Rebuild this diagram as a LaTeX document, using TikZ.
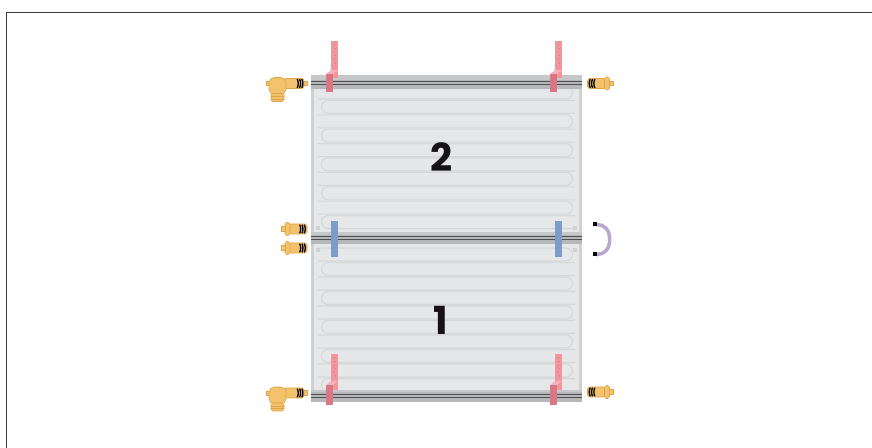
\documentclass[tikz,border=0pt]{standalone}
\usepackage{fontspec}
\newfontfamily\numfont{Poppins}
\definecolor{framecol}{HTML}{3A3A3C}
\definecolor{panelfill}{HTML}{E6E7E9}
\definecolor{paneledge}{HTML}{CFD0D2}
\definecolor{channel}{HTML}{D6D7D9}
\definecolor{railfill}{HTML}{B6B7B9}
\definecolor{raillight}{HTML}{C6C7C9}
\definecolor{raildark}{HTML}{4E4E50}
\definecolor{pinkstrip}{HTML}{F3959D}
\definecolor{pinkblock}{HTML}{DB7784}
\definecolor{pinkfold}{HTML}{F6B0B6}
\definecolor{pinkdot}{HTML}{9C8C8E}
\definecolor{bluebar}{HTML}{7B9DC8}
\definecolor{brass}{HTML}{F2C26C}
\definecolor{brassedge}{HTML}{E0A24A}
\definecolor{loopcol}{HTML}{B9A7CD}
\definecolor{numcol}{HTML}{161216}
\tikzset{
  brasspart/.style={fill=brass, draw=brassedge, line width=0.35pt},
  ring/.style={draw=black, line width=0.75pt},
  chan/.style={draw=channel, line width=0.6pt},
  darkline/.style={draw=raildark, line width=0.6pt},
  numlabel/.style={font=\numfont\bfseries\fontsize{22}{22}\selectfont, text=numcol, inner sep=0pt},
  % straight push-in fitting, rings at the origin, body running to +x
  straightfit/.pic={
    \path[brasspart, rounded corners=1] (0,-5) rectangle (18,5);
    \path[brasspart, rounded corners=1] (17,-6.5) rectangle (22,6.5);
    \path[brasspart] (22,-2.3) rectangle (25.5,2.3);
    \foreach \r in {2,4.3,6.6}
      \draw[ring] (\r+0.8,-4.3) .. controls (\r-0.6,-2) and (\r-0.6,2) .. (\r+0.8,4.3);
  },
  % elbow fitting, tube end at the origin, elbow to -x
  elbowfit/.pic={
    \path[brasspart] (-4,-2.2) rectangle (0,2.2);
    \path[brasspart, rounded corners=1] (-23,-5) rectangle (-3,5);
    \foreach \r in {-9,-6.7,-4.4}
      \draw[ring] (\r-0.8,-4.3) .. controls (\r+0.6,-2) and (\r+0.6,2) .. (\r-0.8,4.3);
    \path[brasspart] (-41,-2) rectangle (-37,2);
    \path[brasspart, rounded corners=3] (-38,-6) rectangle (-21,11);
    \path[brasspart, rounded corners=1] (-36,10) rectangle (-23,18);
    \draw[brassedge, line width=0.3pt] (-36,13) -- (-23,13) (-36,15.5) -- (-23,15.5);
  }
}
\begin{document}
\begin{tikzpicture}[x=0.02cm, y=-0.02cm]
\useasboundingbox (0,0) rectangle (872,448);
\clip (0,0) rectangle (872,448);

% outer frame
\draw[framecol, line width=0.85pt] (6.5,12.5) rectangle (900,480);

% ---- panel 2 (upper) ----
\path[fill=paneledge] (311,86) rectangle (582,234);
\path[fill=panelfill] (314,86) rectangle (579,232);
\begin{scope}
  \clip (314,89) rectangle (579,232);
  \foreach \i in {0,...,9} {
    \pgfmathsetmacro\yt{86+14.4*\i}
    \pgfmathsetmacro\yb{\yt+13}
    \ifodd\i
      \draw[chan] (575,\yt) -- (328,\yt) arc[start angle=270, end angle=90, radius=6.5] -- (575,\yb);
    \else
      \draw[chan] (318,\yt) -- (566,\yt) arc[start angle=270, end angle=450, radius=6.5] -- (318,\yb);
    \fi
  }
\end{scope}

% ---- panel 1 (lower) ----
\path[fill=paneledge] (311,242) rectangle (582,391);
\path[fill=panelfill] (314,244) rectangle (579,391);
\begin{scope}
  \clip (314,244) rectangle (579,390);
  \foreach \i in {0,...,9} {
    \pgfmathsetmacro\yt{248+14.5*\i}
    \pgfmathsetmacro\yb{\yt+13}
    \ifodd\i
      \draw[chan] (575,\yt) -- (328,\yt) arc[start angle=270, end angle=90, radius=6.5] -- (575,\yb);
    \else
      \draw[chan] (318,\yt) -- (566,\yt) arc[start angle=270, end angle=450, radius=6.5] -- (318,\yb);
    \fi
  }
\end{scope}

% small corner studs next to the middle rail
\foreach \x in {316,573} {
  \path[fill=paneledge] (\x,226) rectangle (\x+4,230);
  \path[fill=paneledge] (\x,248) rectangle (\x+4,252);
}

% ---- rails ----
\path[fill=railfill] (311,75) rectangle (582,89);
\path[fill=raillight] (311,75) rectangle (582,80);
\draw[darkline] (311,81.5) -- (582,81.5) (311,84.5) -- (582,84.5);

\path[fill=railfill] (311,232) rectangle (582,244);
\path[fill=raillight] (311,232) rectangle (582,235);
\draw[darkline] (311,236.8) -- (582,236.8) (311,239.8) -- (582,239.8);

\path[fill=railfill] (311,390) rectangle (582,402);
\path[fill=raillight] (311,390) rectangle (582,392.5);
\draw[darkline] (311,394.3) -- (582,394.3) (311,397.8) -- (582,397.8);

% ---- heating cables (pink) ----
\foreach \x/\ya/\yb/\ba/\bb in {331/41/78/72/92, 555/41/78/72/92, 331/354/390/383/405, 555/354/390/383/405} {
  \path[fill=pinkstrip] (\x,\ya) rectangle (\x+7,\yb);
  \foreach \k in {0,...,5}
    \fill[pinkdot] ({\x+3.2+1.3*mod(\k,2)},{\ya+4+3.6*\k}) circle[radius=0.55];
  \path[fill=pinkfold] (\x-5,\ba+2.5) -- (\x,\ba-2) -- (\x+7,\ba-2) -- (\x+2,\ba+2.5) -- cycle;
  \path[fill=pinkblock] (\x-5,\ba+2.5) rectangle (\x+2,\bb);
}

% ---- blue connectors across the middle rail ----
\path[fill=bluebar] (331,221) rectangle (338,257);
\path[fill=bluebar] (555,221) rectangle (562,257);

% ---- fittings ----
\pic at (307,83.5) {elbowfit};
\pic at (307,393) {elbowfit};
\pic at (587.5,83.5) {straightfit};
\pic at (587.5,392) {straightfit};
\pic[xscale=-1] at (307,229) {straightfit};
\pic[xscale=-1] at (307,248) {straightfit};

% ---- return loop ----
\draw[loopcol, line width=2pt, rounded corners=7] (596,224.5) -- (609.5,224.5) -- (609.5,254.5) -- (596,254.5);
\fill[black] (593,222.5) rectangle (597,226.5);
\fill[black] (593,252.5) rectangle (597,256.5);

% ---- panel numbers ----
\node[numlabel] (n2) at (442,157) {2};
\node[numlabel] (n1) at (441,320) {1};
\end{tikzpicture}
\end{document}
